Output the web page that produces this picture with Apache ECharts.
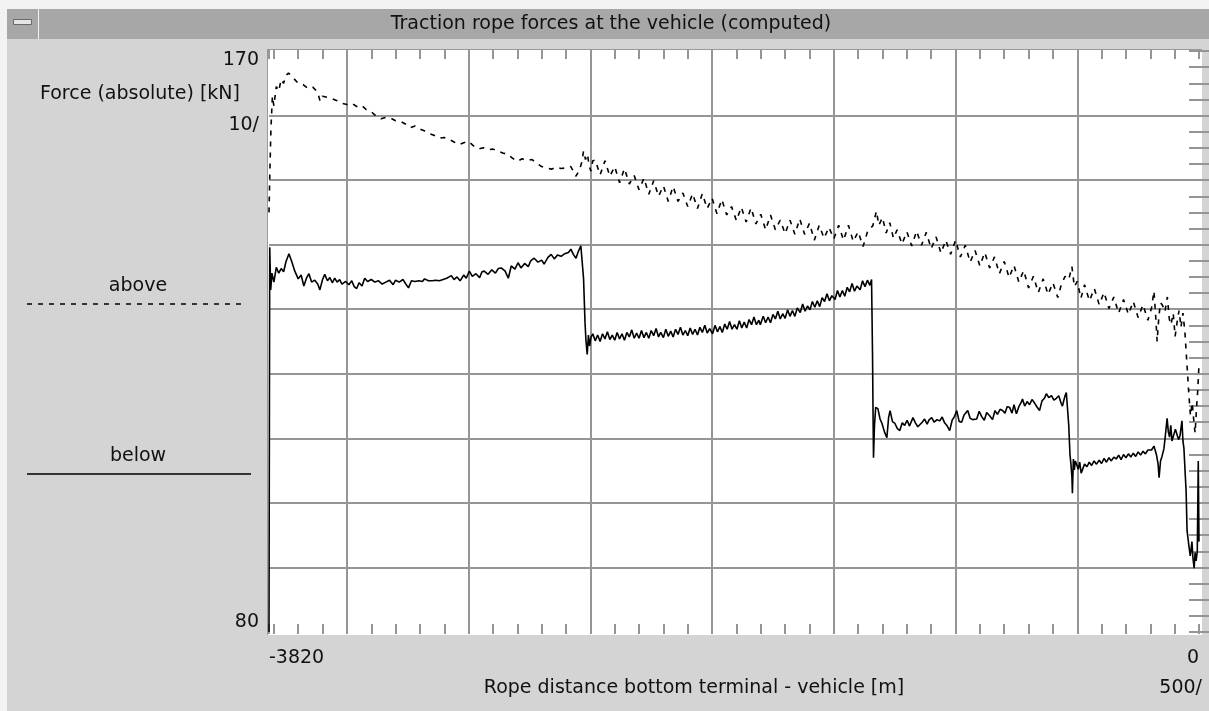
<!DOCTYPE html>
<html>
<head>
<meta charset="utf-8">
<title>Traction rope forces at the vehicle (computed)</title>
<script src="https://cdn.jsdelivr.net/npm/echarts@6/dist/echarts.min.js"></script>
<style>
  html, body { margin: 0; padding: 0; background: #d4d4d4; }
  #main { width: 1209px; height: 711px; }
</style>
</head>
<body>
<div id="main"></div>
<script>
// rope distance bottom terminal - vehicle [m] / force [kN]
var aboveDist = [
  -3820, -3816, -3812, -3806, -3800, -3790, -3780, -3770, -3760, -3750,
  -3740, -3720, -3700, -3680, -3660, -3640, -3620, -3610, -3600, -3580,
  -3560, -3540, -3520, -3500, -3480, -3460, -3440, -3420, -3400, -3380,
  -3360, -3340, -3320, -3300, -3280, -3260, -3240, -3220, -3200, -3180,
  -3160, -3140, -3120, -3100, -3080, -3060, -3040, -3020, -3000, -2980,
  -2960, -2940, -2920, -2900, -2880, -2860, -2840, -2820, -2800, -2780,
  -2760, -2740, -2720, -2700, -2680, -2660, -2640, -2620, -2600, -2580,
  -2560, -2545, -2535, -2528, -2520, -2512, -2505, -2498, -2490, -2480,
  -2460, -2440, -2420, -2400, -2380, -2360, -2340, -2320, -2300, -2280,
  -2260, -2240, -2220, -2200, -2180, -2160, -2140, -2120, -2100, -2080,
  -2060, -2040, -2020, -2000, -1980, -1960, -1940, -1920, -1900, -1880,
  -1860, -1840, -1820, -1800, -1780, -1760, -1740, -1720, -1700, -1680,
  -1660, -1640, -1620, -1600, -1580, -1560, -1540, -1520, -1500, -1480,
  -1460, -1440, -1420, -1400, -1380, -1360, -1340, -1325, -1315, -1300,
  -1285, -1270, -1255, -1240, -1220, -1200, -1180, -1160, -1140, -1120,
  -1100, -1080, -1060, -1040, -1020, -1000, -980, -960, -940, -920,
  -900, -880, -860, -840, -820, -800, -780, -760, -740, -720,
  -700, -680, -660, -640, -620, -600, -580, -565, -550, -535,
  -522, -512, -500, -485, -470, -450, -430, -410, -390, -370,
  -350, -330, -310, -290, -270, -250, -230, -210, -195, -185,
  -178, -172, -165, -158, -150, -140, -130, -122, -115, -106,
  -98, -90, -82, -74, -66, -58, -50, -42, -35, -28,
  -22, -16, -10, -5, 0
];
var aboveForce = [
  145.0, 152.0, 158.0, 163.0, 161.5, 164.5, 163.8, 165.6, 165.0, 166.2,
  166.6, 165.8, 165.0, 164.8, 164.2, 164.4, 163.6, 162.2, 163.0, 162.8,
  162.6, 162.3, 161.9, 161.7, 161.9, 161.4, 161.6, 160.9, 160.6, 159.9,
  159.5, 159.7, 159.6, 159.2, 159.1, 158.7, 158.1, 158.4, 157.9, 157.6,
  157.2, 156.9, 156.5, 156.6, 156.3, 155.9, 155.5, 155.8, 156.0, 155.3,
  154.8, 155.0, 154.7, 154.8, 154.5, 154.2, 154.0, 153.4, 152.9, 153.3,
  153.0, 153.2, 152.6, 152.1, 151.9, 151.7, 152.0, 151.8, 151.9, 152.1,
  150.6, 151.5, 152.8, 154.5, 153.2, 154.0, 152.2, 151.4, 153.0, 153.1,
  150.8, 153.0, 150.6, 152.1, 149.6, 151.8, 149.4, 150.7, 148.5, 150.3,
  147.8, 149.9, 147.5, 149.1, 146.7, 149.0, 146.7, 148.0, 145.9, 147.9,
  145.6, 147.9, 145.6, 147.2, 144.8, 147.0, 144.6, 145.9, 143.7, 145.8,
  143.5, 145.7, 143.2, 144.7, 142.3, 144.6, 142.3, 143.8, 141.7, 143.8,
  141.6, 144.0, 141.6, 143.3, 140.7, 143.0, 141.0, 142.7, 140.9, 143.0,
  140.7, 143.0, 140.5, 142.0, 139.7, 142.2, 142.9, 145.2, 143.0, 144.2,
  141.8, 143.4, 141.0, 142.3, 140.1, 142.0, 139.8, 142.1, 139.9, 141.9,
  139.4, 141.2, 138.7, 140.7, 138.5, 140.7, 138.1, 139.9, 137.3, 139.1,
  136.7, 138.8, 136.4, 138.1, 135.5, 137.4, 134.9, 136.8, 134.2, 136.0,
  133.3, 135.1, 132.6, 134.7, 132.3, 134.1, 131.8, 133.9, 135.1, 134.6,
  136.6, 133.5, 134.3, 131.7, 133.8, 131.3, 133.2, 130.7, 132.6, 130.1,
  131.9, 129.4, 131.5, 129.2, 131.2, 128.7, 130.7, 128.3, 130.2, 132.8,
  129.0, 125.0, 128.8, 131.0, 130.6, 129.6, 131.9, 128.5, 127.6, 129.4,
  125.8, 128.0, 129.8, 127.2, 129.4, 126.5, 121.8, 117.0, 113.5, 115.5,
  113.0, 110.8, 114.8, 117.5, 121.5
];
var belowDist = [
  -3820, -3817, -3813, -3808, -3800, -3790, -3780, -3770, -3760, -3750,
  -3738, -3726, -3714, -3700, -3688, -3677, -3665, -3656, -3645, -3632,
  -3620, -3611, -3600, -3591, -3580, -3570, -3560, -3550, -3540, -3530,
  -3520, -3505, -3492, -3480, -3470, -3460, -3450, -3438, -3427, -3415,
  -3400, -3385, -3370, -3355, -3340, -3325, -3310, -3300, -3285, -3270,
  -3258, -3247, -3235, -3220, -3205, -3190, -3181, -3165, -3150, -3135,
  -3120, -3105, -3090, -3071, -3060, -3048, -3035, -3020, -3010, -2997,
  -2985, -2970, -2955, -2945, -2936, -2920, -2905, -2890, -2878, -2866,
  -2850, -2837, -2825, -2810, -2797, -2785, -2770, -2755, -2745, -2731,
  -2715, -2700, -2690, -2675, -2661, -2648, -2635, -2620, -2605, -2590,
  -2580, -2570, -2559, -2550, -2539, -2533, -2528, -2522, -2518, -2513,
  -2508, -2503, -2498, -2490, -2480, -2470, -2460, -2450, -2440, -2430,
  -2420, -2410, -2400, -2390, -2380, -2370, -2360, -2350, -2340, -2330,
  -2320, -2310, -2300, -2290, -2280, -2270, -2260, -2250, -2240, -2230,
  -2220, -2211, -2200, -2190, -2180, -2170, -2160, -2150, -2140, -2130,
  -2120, -2110, -2100, -2090, -2080, -2070, -2060, -2050, -2040, -2030,
  -2020, -2010, -1998, -1988, -1978, -1968, -1958, -1948, -1938, -1928,
  -1918, -1908, -1898, -1888, -1878, -1868, -1858, -1848, -1838, -1828,
  -1818, -1808, -1802, -1790, -1780, -1770, -1760, -1750, -1740, -1730,
  -1720, -1710, -1700, -1690, -1680, -1670, -1660, -1650, -1638, -1628,
  -1618, -1608, -1598, -1588, -1578, -1568, -1558, -1548, -1538, -1528,
  -1518, -1508, -1495, -1485, -1475, -1465, -1455, -1445, -1435, -1425,
  -1415, -1405, -1392, -1382, -1372, -1362, -1352, -1345, -1341, -1339,
  -1337, -1333, -1328, -1319, -1310, -1302, -1292, -1282, -1275, -1269,
  -1259, -1249, -1239, -1229, -1219, -1209, -1199, -1189, -1175, -1165,
  -1155, -1147, -1137, -1127, -1117, -1108, -1098, -1088, -1076, -1065,
  -1055, -1045, -1034, -1024, -1014, -1004, -995, -985, -975, -965,
  -950, -940, -930, -913, -903, -893, -882, -872, -860, -848,
  -838, -828, -817, -807, -797, -788, -778, -768, -760, -750,
  -740, -730, -725, -716, -706, -696, -686, -676, -666, -655,
  -645, -635, -627, -617, -606, -596, -586, -576, -566, -561,
  -551, -545, -541, -535, -530, -526, -522, -520, -516, -512,
  -508, -504, -496, -490, -484, -479, -470, -460, -451, -441,
  -431, -421, -410, -400, -390, -380, -370, -360, -350, -340,
  -330, -320, -310, -300, -290, -280, -270, -260, -250, -240,
  -230, -220, -210, -205, -195, -185, -175, -168, -164, -158,
  -152, -144, -138, -131, -126, -121, -116, -111, -104, -97,
  -90, -84, -78, -70, -66, -62, -56, -53, -49, -42,
  -36, -33, -29, -25, -20, -16, -12, -7, -3, 0
];
var belowForce = [
  80.0, 139.6, 133.0, 135.6, 134.2, 136.5, 135.6, 136.3, 135.8, 137.4,
  138.6, 137.3, 135.9, 134.7, 135.3, 133.6, 134.9, 135.5, 134.2, 134.5,
  133.9, 133.0, 134.6, 135.4, 134.4, 134.9, 134.1, 134.8, 134.2, 134.6,
  133.9, 134.3, 133.8, 134.4, 133.5, 133.2, 134.1, 133.6, 134.8, 134.3,
  134.6, 134.2, 134.4, 133.9, 134.2, 134.5, 133.8, 134.5, 134.2, 134.6,
  133.9, 133.3, 134.4, 134.3, 134.4, 134.3, 134.7, 134.4, 134.4, 134.5,
  134.4, 134.6, 134.8, 135.2, 134.6, 135.0, 134.4, 135.3, 134.8, 135.9,
  135.1, 135.5, 134.9, 135.8, 135.9, 135.4, 136.1, 135.6, 136.3, 136.4,
  135.9, 134.8, 136.7, 136.2, 137.2, 136.4, 137.1, 136.6, 137.5, 137.9,
  137.3, 137.6, 137.0, 138.0, 138.5, 137.8, 138.4, 138.2, 138.6, 138.8,
  139.3, 138.5, 137.9, 138.9, 139.8, 139.5, 134.8, 128.0, 125.1, 123.0,
  126.0, 124.3, 125.6, 126.2, 125.1, 126.0, 125.0, 126.2, 125.4, 126.5,
  125.3, 126.0, 125.2, 126.4, 125.4, 126.2, 125.2, 126.4, 125.7, 126.8,
  125.5, 126.3, 125.5, 126.7, 125.6, 126.4, 125.5, 126.7, 125.9, 127.0,
  125.7, 126.4, 125.6, 126.9, 125.8, 126.6, 125.7, 126.9, 126.1, 127.2,
  126.0, 126.7, 125.9, 127.1, 126.1, 126.9, 126.0, 127.2, 126.4, 127.5,
  126.3, 127.0, 126.2, 127.5, 126.5, 127.3, 126.4, 127.7, 126.9, 128.1,
  126.9, 127.6, 126.9, 128.2, 127.1, 128.0, 127.1, 128.4, 127.6, 128.8,
  127.6, 128.3, 127.6, 128.9, 127.9, 128.8, 127.9, 129.2, 128.5, 129.7,
  128.5, 129.3, 128.6, 129.9, 128.9, 129.8, 128.9, 130.2, 129.5, 130.8,
  129.7, 130.5, 129.9, 131.2, 130.3, 131.3, 130.4, 131.8, 131.2, 132.4,
  131.3, 132.1, 131.5, 132.9, 131.9, 132.9, 132.0, 133.4, 132.7, 134.0,
  132.8, 133.6, 133.0, 134.4, 133.5, 134.5, 133.7, 134.6, 123.0, 114.3,
  107.0, 112.0, 114.8, 114.6, 113.0, 112.3, 111.0, 110.1, 113.2, 114.3,
  112.6, 112.3, 111.5, 111.2, 112.4, 112.0, 112.8, 111.9, 113.2, 112.4,
  111.8, 111.7, 112.5, 113.0, 112.2, 112.9, 113.2, 112.5, 112.9, 112.7,
  113.3, 112.4, 111.9, 111.2, 112.8, 113.4, 114.3, 112.6, 112.5, 113.6,
  114.3, 113.1, 112.9, 113.0, 114.2, 113.4, 112.8, 114.0, 113.5, 112.9,
  114.3, 113.7, 114.5, 114.3, 113.9, 114.9, 114.8, 113.9, 115.2, 113.8,
  114.9, 115.6, 116.1, 115.0, 115.7, 115.2, 116.0, 115.5, 114.9, 114.3,
  115.8, 116.2, 116.9, 116.3, 116.6, 115.9, 116.2, 116.6, 115.4, 115.0,
  116.5, 117.1, 116.8, 112.0, 107.5, 106.0, 104.0, 101.5, 106.8, 105.1,
  106.5, 106.1, 105.2, 106.3, 104.6, 104.8, 106.0, 105.6, 106.3, 105.8,
  106.5, 106.0, 106.6, 106.1, 106.9, 106.3, 107.0, 106.5, 107.1, 106.8,
  107.4, 106.7, 107.5, 107.0, 107.6, 107.1, 107.7, 107.2, 107.9, 107.4,
  108.0, 107.6, 108.2, 108.4, 108.2, 108.8, 107.5, 106.0, 103.9, 106.5,
  107.2, 108.4, 110.5, 113.1, 111.0, 110.2, 112.0, 109.6, 110.5, 111.4,
  111.2, 109.8, 110.4, 112.7, 109.6, 108.5, 104.0, 101.9, 95.7, 93.5,
  91.8, 92.6, 94.0, 91.5, 89.9, 92.3, 91.0, 92.5, 106.5, 94.0
];

var xLabelValues = [-3820, 0];
var yLabelValues = [170, 160, 80];
var yLabelTexts = ['170', '10/', '80'];

var FONT = 'DejaVu Sans';
var gridCol = '#959595';
var tickStyle = { color: gridCol, width: 2 };

function pairs(xs, ys) {
    var out = [];
    for (var i = 0; i < xs.length; i++) {
        out.push([xs[i], ys[i]]);
    }
    return out;
}

function label(text, x, y, align) {
    return {
        type: 'text', silent: true,
        style: {
            text: text, x: x, y: y, font: '19px "DejaVu Sans"', fill: '#111',
            align: align, verticalAlign: 'middle', textAlign: align, textVerticalAlign: 'middle'
        }
    };
}

var option = {
    backgroundColor: '#d4d4d4',
    animation: false,
    grid: { left: 269, top: 51, width: 930, height: 581 },
    xAxis: [
        {   // bottom: ticks every 100 m, end labels
            type: 'value', min: -3820, max: 0, splitNumber: 38, position: 'bottom', offset: 2,
            axisLine: { show: false },
            axisTick: { show: true, inside: true, length: 10, lineStyle: tickStyle },
            splitLine: { show: false },
            axisLabel: {
                show: true, margin: 15, color: '#111', fontFamily: FONT, fontSize: 19,
                alignMinLabel: 'left', alignMaxLabel: 'right',
                formatter: function (v) {
                    return xLabelValues.indexOf(v) >= 0 ? String(v) : '';
                }
            }
        },
        {   // top: ticks only
            type: 'value', min: -3820, max: 0, splitNumber: 38, position: 'top', offset: 2,
            axisLine: { show: false },
            axisTick: { show: true, inside: true, length: 10, lineStyle: tickStyle },
            splitLine: { show: false },
            axisLabel: { show: false }
        },
        {   // grid lines every 500 m
            type: 'value', min: -3820, max: 0, splitNumber: 8, position: 'bottom',
            axisLine: { show: false },
            axisTick: { show: false },
            axisLabel: { show: false },
            splitLine: { show: true, showMinLine: false, showMaxLine: false, lineStyle: tickStyle }
        }
    ],
    yAxis: [
        {
            type: 'value', min: 80, max: 170, interval: 10, position: 'left',
            axisLine: { show: false },
            axisTick: { show: true, inside: true, length: 10, lineStyle: tickStyle },
            minorTick: { show: true, splitNumber: 4, length: 10, lineStyle: tickStyle },
            splitLine: { show: true, showMinLine: false, showMaxLine: false, lineStyle: tickStyle },
            axisLabel: {
                margin: 10, color: '#111', fontFamily: FONT, fontSize: 19,
                verticalAlign: 'top', verticalAlignMinLabel: 'bottom',
                formatter: function (v) {
                    var k = yLabelValues.indexOf(v);
                    return k >= 0 ? yLabelTexts[k] : '';
                }
            }
        },
        {
            type: 'value', min: 80, max: 170, interval: 10, position: 'right',
            axisLine: { show: false },
            axisTick: { show: true, inside: true, length: 10, lineStyle: tickStyle },
            minorTick: { show: true, splitNumber: 4, length: 10, lineStyle: tickStyle },
            splitLine: { show: false },
            axisLabel: { show: false }
        }
    ],
    graphic: [
        { type: 'rect', z: -2, silent: true, shape: { x: 0, y: 0, width: 1209, height: 9 }, style: { fill: '#f3f3f3' } },
        { type: 'rect', z: -2, silent: true, shape: { x: 0, y: 0, width: 7, height: 711 }, style: { fill: '#f3f3f3' } },
        // title bar
        { type: 'rect', z: -2, silent: true, shape: { x: 7, y: 9, width: 1202, height: 30 }, style: { fill: '#a7a7a7' } },
        { type: 'line', z: -1, silent: true, shape: { x1: 38.5, y1: 9, x2: 38.5, y2: 39 }, style: { stroke: '#f2f2f2', lineWidth: 1 } },
        { type: 'rect', z: -1, silent: true, shape: { x: 13.5, y: 19.5, width: 18, height: 5 }, style: { fill: '#e4e4e4', stroke: '#6a6a6a', lineWidth: 1 } },
        {
            type: 'text', silent: true,
            style: {
                text: 'Traction rope forces at the vehicle (computed)', x: 611, y: 24,
                font: '19px "DejaVu Sans"', fill: '#111',
                align: 'center', verticalAlign: 'middle', textAlign: 'center', textVerticalAlign: 'middle'
            }
        },
        // plot frame, sunken edge on top and left only
        { type: 'rect', z: -1, silent: true, shape: { x: 267, y: 49, width: 935, height: 586 }, style: { fill: '#ffffff' } },
        { type: 'line', z: -1, silent: true, shape: { x1: 267.5, y1: 49, x2: 267.5, y2: 635 }, style: { stroke: '#9a9a9a', lineWidth: 1 } },
        { type: 'line', z: -1, silent: true, shape: { x1: 267, y1: 49.5, x2: 1202, y2: 49.5 }, style: { stroke: '#9a9a9a', lineWidth: 1 } },
        // axis names
        label('Force (absolute) [kN]', 240, 94, 'right'),
        label('Rope distance bottom terminal - vehicle [m]', 694, 688, 'center'),
        label('500/', 1202, 688, 'right'),
        // legend
        label('above', 138, 286, 'center'),
        { type: 'line', silent: true, shape: { x1: 27, y1: 304, x2: 247, y2: 304 }, style: { stroke: '#000', lineWidth: 1.5, lineDash: [5, 6] } },
        label('below', 138, 456, 'center'),
        { type: 'line', silent: true, shape: { x1: 27, y1: 474, x2: 251, y2: 474 }, style: { stroke: '#000', lineWidth: 1.5 } }
    ],
    series: [
        {
            name: 'above', type: 'line', xAxisIndex: 0, yAxisIndex: 0,
            data: pairs(aboveDist, aboveForce),
            symbol: 'none', showSymbol: false,
            lineStyle: { color: '#000', width: 1.6, type: [5, 6] }
        },
        {
            name: 'below', type: 'line', xAxisIndex: 0, yAxisIndex: 0,
            data: pairs(belowDist, belowForce),
            symbol: 'none', showSymbol: false,
            lineStyle: { color: '#000', width: 1.6 }
        }
    ]
};

var myChart = echarts.init(document.getElementById('main'), null, { renderer: 'canvas' });
myChart.setOption(option);
</script>
</body>
</html>
